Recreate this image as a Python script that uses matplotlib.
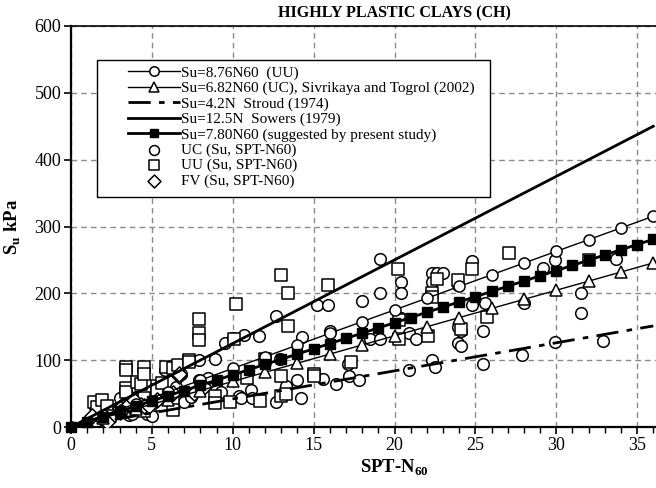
import numpy as np
import matplotlib
matplotlib.use("Agg")
import matplotlib.pyplot as plt
from matplotlib.patches import Rectangle
from matplotlib.ticker import MultipleLocator

plt.rcParams['font.family'] = ['Liberation Serif', 'DejaVu Serif']
plt.rcParams['mathtext.fontset'] = 'custom'
plt.rcParams['mathtext.rm'] = 'Liberation Serif'
plt.rcParams['mathtext.bf'] = 'Liberation Serif:bold'

# Correlation lines Su = k * N60
n_line = np.arange(0, 37, 1)
k_uu = 8.76
k_uc = 6.82
k_stroud = 4.2
k_sowers = 12.5
k_present = 7.80

# Laboratory / field data (N60, Su in kPa)
uc_n = [1.5, 2.0, 2.6, 3.0, 3.3, 3.6, 3.8, 4.0, 4.2, 4.5, 4.7, 5.0, 5.3, 5.6, 5.8, 5.8, 6.0,
        6.2, 6.5, 6.8, 7.0, 7.4, 7.9, 7.9, 8.5, 8.9, 9.3, 9.5, 10.0, 10.4, 10.5, 10.7, 11.1,
        11.2, 11.6, 12.0, 12.7, 12.7, 12.9, 13.3, 14.0, 14.2, 14.3, 15.2, 15.6, 15.9, 16.0,
        16.4, 17.1, 17.2, 17.8, 18.0, 18.5, 19.1, 19.1, 19.1, 20.4, 20.4, 20.4, 20.9, 20.9,
        21.3, 22.3, 22.3, 22.3, 22.5, 22.6, 23.0, 23.9, 23.9, 23.9, 24.1, 24.1, 24.8, 24.8,
        25.5, 25.5, 25.6, 27.9, 28.0, 29.2, 29.9, 29.9, 31.5, 31.5, 32.9, 33.7]
uc_su = [30, 20, 22, 43, 35, 18, 20, 45, 30, 38, 20, 17, 45, 50, 53, 86, 45,
         38, 60, 80, 38, 45, 70, 100, 73, 101, 52, 126, 133, 46, 43, 138, 55,
         43, 136, 101, 37, 166, 101, 61, 70, 43, 134, 183, 72, 183, 143,
         64, 95, 76, 71, 188, 131, 131, 201, 251, 217, 201, 163, 140, 85,
         131, 231, 217, 100, 90, 231, 231, 213, 150, 126, 143, 121, 183, 249,
         143, 94, 186, 108, 185, 238, 127, 250, 201, 171, 129, 251]

uu_n = [1.4, 1.6, 1.9, 2.2, 2.4, 3.4, 3.4, 3.4, 3.4, 4.1, 4.3, 4.5, 4.5, 4.5, 4.5, 5.3, 5.3,
        5.6, 5.6, 5.9, 6.3, 6.3, 6.3, 6.6, 7.3, 7.3, 7.9, 7.9, 7.9, 8.9, 8.9, 9.8, 10.1,
        10.2, 10.9, 11.7, 12.0, 13.0, 13.0, 13.0, 13.4, 13.4, 13.3, 15.0, 15.0, 15.9, 17.3,
        20.2, 20.3, 20.3, 22.1, 22.3, 22.3, 22.6, 23.9, 24.1, 24.8, 25.7, 27.1, 32.0]
uu_su = [37, 30, 41, 31, 16, 90, 85, 58, 53, 68, 65, 90, 80, 44, 24, 61, 56,
         66, 33, 90, 88, 40, 25, 93, 100, 97, 161, 140, 130, 46, 36, 38, 131,
         184, 73, 39, 101, 227, 76, 46, 201, 151, 50, 80, 76, 212, 98,
         237, 160, 131, 136, 201, 195, 221, 220, 147, 237, 165, 261, 250]

fv_n = [1.3, 2.0, 2.2, 3.0, 3.0, 3.6, 3.6, 3.9, 4.3, 4.5, 4.8, 5.3, 6.3, 6.7, 6.7, 7.6, 8.2]
fv_su = [16, 11, 8, 28, 23, 33, 35, 41, 33, 31, 31, 41, 51, 76, 80, 51, 60]

x_ticks = [0, 5, 10, 15, 20, 25, 30, 35]
y_ticks = [0, 100, 200, 300, 400, 500, 600]

fig = plt.figure(figsize=(6.56, 4.88), dpi=100)
ax = fig.add_axes([71 / 656, 61 / 488, 647 / 656, 401 / 488])

open_mk = dict(markerfacecolor='white', markeredgecolor='black', markeredgewidth=1.1)

l_uu, = ax.plot(n_line, k_uu * n_line, color='black', lw=1.0, marker='o', markersize=8,
                markevery=2, label='Su=8.76N60  (UU)', zorder=4, **open_mk)
l_uc, = ax.plot(n_line, k_uc * n_line, color='black', lw=1.0, marker='^', markersize=8,
                markevery=2, label='Su=6.82N60 (UC), Sivrikaya and Togrol (2002)', zorder=4,
                **open_mk)
l_st, = ax.plot(n_line, k_stroud * n_line, color='black', lw=2.0, dashes=(8, 3, 2, 3),
                label='Su=4.2N  Stroud (1974)', zorder=4)
l_so, = ax.plot(n_line, k_sowers * n_line, color='black', lw=2.0,
                label='Su=12.5N  Sowers (1979)', zorder=4)
l_pr, = ax.plot(n_line, k_present * n_line, color='black', lw=2.0, marker='s', markersize=7,
                markevery=1, markerfacecolor='black', markeredgecolor='black',
                label='Su=7.80N60 (suggested by present study)', zorder=5, clip_on=False)

s_uc = ax.scatter(uc_n, uc_su, s=70, marker='o', facecolors='white', edgecolors='black',
                  linewidths=1.1, label='UC (Su, SPT-N60)', zorder=3)
s_uu = ax.scatter(uu_n, uu_su, s=70, marker='s', facecolors='white', edgecolors='black',
                  linewidths=1.1, label='UU (Su, SPT-N60)', zorder=3)
s_fv = ax.scatter(fv_n, fv_su, s=60, marker='D', facecolors='white', edgecolors='black',
                  linewidths=1.1, label='FV (Su, SPT-N60)', zorder=3)

ax.set_xlim(0, 40)
ax.set_ylim(0, 600)
ax.set_xticks(x_ticks)
ax.set_yticks(y_ticks)
ax.xaxis.set_minor_locator(MultipleLocator(1))
ax.tick_params(axis='both', which='major', direction='out', length=5, width=1.2,
               labelsize=13, pad=2)
ax.tick_params(axis='x', which='minor', direction='out', length=4, width=1.0)
ax.grid(True, which='major', color='#8a8a8a', lw=1.0, dashes=(4, 3))
ax.set_axisbelow(True)
for sp in ['left', 'bottom']:
    ax.spines[sp].set_linewidth(1.6)
ax.spines['top'].set_linewidth(1.2)
ax.spines['right'].set_linewidth(1.2)

ax.set_title('HIGHLY PLASTIC CLAYS (CH)', fontsize=11.5, fontweight='bold', pad=6)
ax.set_xlabel(r'SPT-N$_{\mathbf{60}}$', fontsize=13.5, fontweight='bold', labelpad=3)
ax.set_ylabel(r'S$_{\mathbf{u}}$ kPa', fontsize=13.5, fontweight='bold', labelpad=8)

# Legend box with a wide inner margin on the left
ax.add_patch(Rectangle((0.040, 0.574), 0.608, 0.341, transform=ax.transAxes,
                       facecolor='white', edgecolor='black', lw=1.0, zorder=6))
leg = ax.legend(handles=[l_uu, l_uc, l_st, l_so, l_pr, s_uc, s_uu, s_fv],
                loc='upper left', bbox_to_anchor=(0.088, 0.900), frameon=False,
                fontsize=11, handlelength=3.4, handletextpad=0.1, labelspacing=0.1,
                borderpad=0, borderaxespad=0, markerscale=0.85, scatterpoints=1)
leg.set_zorder(7)

fig.savefig('out.png', dpi=100)
